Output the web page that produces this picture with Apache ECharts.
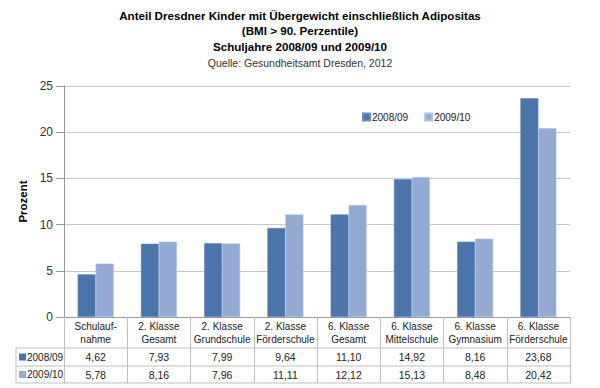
<!DOCTYPE html>
<html><head><meta charset="utf-8">
<script src="https://cdn.jsdelivr.net/npm/echarts@6/dist/echarts.min.js"></script>
<style>html,body{margin:0;padding:0;background:#fff}#c{width:600px;height:388px}</style>
</head><body><div id="c"></div>
<script>
const titleLines = ['Anteil Dresdner Kinder mit Übergewicht einschließlich Adipositas', '(BMI > 90. Perzentile)', 'Schuljahre 2008/09 und 2009/10'];
const sourceText = 'Quelle: Gesundheitsamt Dresden, 2012';
const categories = ['Schulauf-\nnahme','2. Klasse\nGesamt','2. Klasse\nGrundschule','2. Klasse\nFörderschule','6. Klasse\nGesamt','6. Klasse\nMittelschule','6. Klasse\nGymnasium','6. Klasse\nFörderschule'];
const seriesNames = ['2008/09','2009/10'];
const values0809 = [4.62, 7.93, 7.99, 9.64, 11.10, 14.92, 8.16, 23.68];
const values0910 = [5.78, 8.16, 7.96, 11.11, 12.12, 15.13, 8.48, 20.42];
const yTicks = [0, 5, 10, 15, 20, 25];

const C1 = '#4A74AA', C2 = '#95AAD2';
const LINE = '#BFBFBF';
const FONT = 'Liberation Sans, Arial, sans-serif';
const fmt = v => v.toFixed(2).replace('.', ',');

const chart = echarts.init(document.getElementById('c'), null, {renderer: 'svg'});
const gridL = 64, gridR = 570, gridT = 86, gridB = 317;
const tableL = 16, r1 = 348, r2 = 366, r3 = 383;

const titleTops = [9, 24, 40];
const titles = titleLines.map((t, i) => ({
  text: t, left: 'center', top: titleTops[i], padding: 0,
  textStyle: {fontFamily: FONT, fontSize: 11.6, fontWeight: 'bold', color: '#000'}
}));
titles.push({text: sourceText, left: 'center', top: 57, padding: 0,
  textStyle: {fontFamily: FONT, fontSize: 10.5, fontWeight: 'normal', color: '#333'}});

const xBase = {type: 'category', data: categories, gridIndex: 0, position: 'bottom'};
chart.setOption({
  animation: false,
  textStyle: {fontFamily: FONT},
  title: titles,
  legend: {
    data: seriesNames, left: 357, top: 107, itemWidth: 7, itemHeight: 7, itemGap: 16,
    icon: 'rect',
    textStyle: {fontFamily: FONT, fontSize: 10, color: '#222', padding: [0, 0, 0, -3]}
  },
  grid: {left: gridL, right: 600 - gridR, top: gridT, bottom: 388 - gridB},
  xAxis: [
    Object.assign({}, xBase, {
      axisLine: {lineStyle: {color: '#999'}},
      axisTick: {show: true, length: r3 - gridB, lineStyle: {color: LINE}},
      axisLabel: {margin: 3, interval: 0, fontSize: 10, color: '#222', lineHeight: 13, fontFamily: FONT}
    }),
    Object.assign({}, xBase, {
      data: values0809.map(fmt), offset: r1 - gridB,
      axisLine: {show: false}, axisTick: {show: false},
      axisLabel: {margin: 3, interval: 0, fontSize: 10.5, color: '#222', fontFamily: FONT}
    }),
    Object.assign({}, xBase, {
      data: values0910.map(fmt), offset: r2 - gridB,
      axisLine: {show: false}, axisTick: {show: false},
      axisLabel: {margin: 3, interval: 0, fontSize: 10.5, color: '#222', fontFamily: FONT}
    })
  ],
  yAxis: {
    type: 'value', min: yTicks[0], max: yTicks[yTicks.length - 1], interval: yTicks[1] - yTicks[0],
    name: 'Prozent', nameLocation: 'middle', nameRotate: 90, nameGap: 29,
    nameTextStyle: {fontFamily: FONT, fontSize: 11.5, fontWeight: 'bold', color: '#000'},
    axisLine: {show: true, lineStyle: {color: '#999'}},
    axisTick: {show: true, length: 8, lineStyle: {color: '#999'}},
    axisLabel: {margin: 11, fontSize: 12, color: '#333', fontFamily: FONT},
    splitLine: {lineStyle: {color: '#C8C8C8'}}
  },
  series: [
    {name: seriesNames[0], type: 'bar', data: values0809, barWidth: 18, barGap: '0%',
     itemStyle: {color: C1, borderColor: '#6A8CC0', borderWidth: 0.6}},
    {name: seriesNames[1], type: 'bar', data: values0910, barWidth: 18, barGap: '0%',
     itemStyle: {color: C2, borderColor: '#AFC0E0', borderWidth: 0.6}}
  ],
  graphic: [
    {type: 'line', shape: {x1: tableL, y1: r1, x2: gridR + 1, y2: r1}, style: {stroke: LINE, lineWidth: 1}},
    {type: 'line', shape: {x1: tableL, y1: r2, x2: gridR + 1, y2: r2}, style: {stroke: LINE, lineWidth: 1}},
    {type: 'line', shape: {x1: tableL, y1: r3, x2: gridR + 1, y2: r3}, style: {stroke: LINE, lineWidth: 1}},
    {type: 'line', shape: {x1: tableL, y1: r1, x2: tableL, y2: r3}, style: {stroke: LINE, lineWidth: 1}},
    {type: 'rect', shape: {x: 19, y: (r1 + r2) / 2 - 3.5, width: 7, height: 7}, style: {fill: C1}},
    {type: 'text', style: {x: 27, y: (r1 + r2) / 2, text: seriesNames[0], fill: '#222', font: '10px ' + FONT, verticalAlign: 'middle'}},
    {type: 'rect', shape: {x: 19, y: (r2 + r3) / 2 - 3.5, width: 7, height: 7}, style: {fill: C2}},
    {type: 'text', style: {x: 27, y: (r2 + r3) / 2, text: seriesNames[1], fill: '#222', font: '10px ' + FONT, verticalAlign: 'middle'}}
  ]
});
</script></body></html>
